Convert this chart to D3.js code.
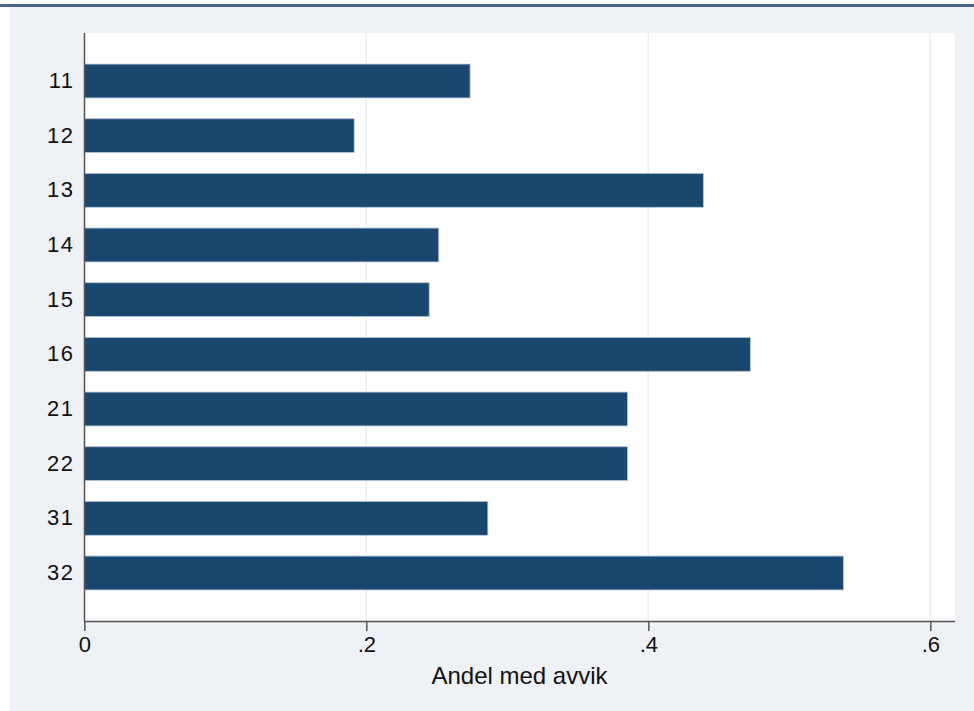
<!DOCTYPE html>
<html>
<head>
<meta charset="utf-8">
<script src="https://cdn.jsdelivr.net/npm/d3@7"></script>
<style>
  html, body { margin: 0; padding: 0; background: #ffffff; }
  svg { display: block; font-family: "Liberation Sans", Arial, Helvetica, sans-serif; }
</style>
</head>
<body>
<svg id="chart" width="974" height="711"></svg>
<script>
const categories = ["11", "12", "13", "14", "15", "16", "21", "22", "31", "32"];
const values = [0.2736, 0.1914, 0.4391, 0.2514, 0.2446, 0.4724, 0.3853, 0.3853, 0.2862, 0.5384];
const xTicks = [0, 0.2, 0.4, 0.6];
const xTickLabels = ["0", ".2", ".4", ".6"];
const xTitle = "Andel med avvik";

const svg = d3.select("#chart");
const W = 974, H = 711;
const plot = { left: 84, right: 955, top: 33, bottom: 621 };

// outer background
svg.append("rect").attr("x", 10).attr("y", 7).attr("width", W - 10).attr("height", H - 7).attr("fill", "#eef1f6");
// top border line
svg.append("rect").attr("x", 0).attr("y", 4).attr("width", W).attr("height", 3).attr("fill", "#4a6390");
// plot region
svg.append("rect").attr("x", plot.left).attr("y", plot.top)
  .attr("width", plot.right - plot.left).attr("height", plot.bottom - plot.top).attr("fill", "#ffffff");

const x = d3.scaleLinear().domain([0, 0.6]).range([84.3, 930.3]);
const y = d3.scaleBand().domain(categories).range([plot.top, plot.bottom])
  .paddingInner(0.38).paddingOuter(0.568);

// grid lines
svg.append("g").selectAll("line").data(xTicks.filter(d => d > 0)).join("line")
  .attr("x1", d => x(d)).attr("x2", d => x(d))
  .attr("y1", plot.top).attr("y2", plot.bottom)
  .attr("stroke", "#e9eef5").attr("stroke-width", 1.5);

// bars
svg.append("g").selectAll("rect").data(categories).join("rect")
  .attr("x", x(0))
  .attr("y", d => y(d))
  .attr("width", (d, i) => x(values[i]) - x(0))
  .attr("height", y.bandwidth())
  .attr("fill", "#1a476f")
  .attr("stroke", "#b9c9dd").attr("stroke-width", 0.8);

// x axis
const xAxis = d3.axisBottom(x).tickValues(xTicks)
  .tickFormat((d, i) => xTickLabels[i]).tickSize(10).tickPadding(5).tickSizeOuter(0);
const gx = svg.append("g").attr("transform", `translate(0,${plot.bottom})`).call(xAxis);
gx.select(".domain").attr("d", `M${plot.left},0.5H${plot.right}`).attr("stroke", "#555").attr("stroke-width", 1.5);
gx.selectAll(".tick line").attr("stroke", "#555").attr("stroke-width", 1.5);
gx.selectAll(".tick text").attr("font-size", 22).attr("fill", "#111")
  .attr("font-family", "Liberation Sans, Arial, sans-serif");

// y axis
const yAxis = d3.axisLeft(y).tickSize(0).tickPadding(9.5);
const gy = svg.append("g").attr("transform", `translate(${plot.left},0)`).call(yAxis);
gy.select(".domain").attr("d", `M0.5,${plot.top}V${plot.bottom}`).attr("stroke", "#555").attr("stroke-width", 1.5);
gy.selectAll(".tick text").attr("font-size", 22).attr("fill", "#111")
  .attr("letter-spacing", 1.5)
  .attr("font-family", "Liberation Sans, Arial, sans-serif");

// x title
svg.append("text").attr("x", (plot.left + plot.right) / 2).attr("y", 684)
  .attr("text-anchor", "middle").attr("font-size", 24).attr("fill", "#111")
  .text(xTitle);
</script>
</body>
</html>
